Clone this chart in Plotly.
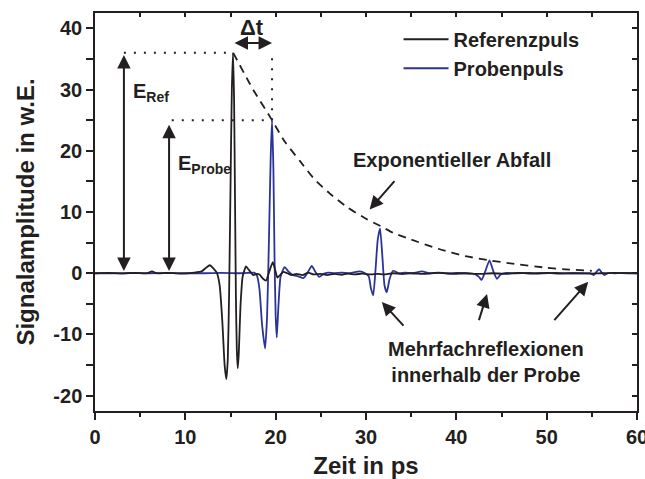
import plotly.graph_objects as go

# ---------------- data ----------------
t_ref = [0, 1.5, 3, 4.5, 5.8, 6.3, 6.8, 8, 9.5, 11, 11.8, 12.3, 12.7, 13.1, 13.5, 13.8,
         14.1, 14.35, 14.54, 14.7, 14.85, 15.0, 15.15, 15.28, 15.4, 15.5, 15.6, 15.7,
         15.8, 15.92, 16.1, 16.35, 16.72, 17.0, 17.53, 17.9, 18.2, 18.6, 18.94, 19.3,
         19.68, 19.95, 20.19, 20.5, 20.82, 21.3, 21.78, 22.3, 23.0, 23.6, 24.2, 25.0,
         25.7, 26.5, 27.3, 28.0, 28.8, 29.6, 30.5, 31.3, 32.0, 33.0, 34.0, 35.0, 36.5,
         38.0, 39.5, 41.0, 42.5, 44.0, 45.5, 47.0, 48.5, 50.0, 51.5, 53.0, 54.5, 56.0,
         57.5, 59.0, 60.0]
v_ref = [0, 0.05, -0.05, 0.05, 0.0, 0.3, 0.0, 0.05, -0.05, 0.1, 0.3, 0.9, 1.3, 0.8, 0.0, -2.0,
         -8.0, -15.0, -17.3, -14.0, -3.0, 14.0, 30.0, 36.0, 28.0, 12.0, -4.0, -12.5,
         -15.5, -13.0, -5.5, -0.5, 1.1, 0.6, -0.3, -0.1, -0.2, -0.9, -1.2, 0.3,
         1.8, 0.5, -0.7, -0.3, 0.2, 0.0, -0.3, -0.1, -0.3, 0.1, -0.2, -0.1,
         -0.3, -0.1, -0.25, -0.05, -0.2, -0.05, -0.2, -0.1, -0.2, 0.0, -0.15, 0.0, -0.1,
         0.05, -0.1, 0.0, -0.1, 0.0, -0.1, 0.05, -0.05, 0.05, -0.05, 0.0, -0.05, 0.0,
         0.05, 0.0, 0.0]

t_probe = [0, 2, 4, 6, 8, 10, 12, 14, 16, 17.0, 17.6, 17.9, 18.2, 18.5, 18.83, 19.05,
           19.25, 19.45, 19.6, 19.75, 19.87, 20.0, 20.12, 20.3, 20.55, 20.99, 21.4, 21.9,
           22.5, 23.07, 23.5, 24.0, 24.4, 24.84, 25.3, 25.8, 26.5, 27.3, 28.2, 29.3, 29.9,
           30.3, 30.55, 30.8, 31.05, 31.3, 31.56, 31.8, 32.05, 32.3, 32.6, 33.0, 33.6,
           34.3, 35.2, 36.2, 37.0, 38.0, 39.0, 40.0, 41.0, 42.0, 42.5, 42.8, 43.2, 43.67,
           44.1, 44.5, 44.9, 45.5, 46.5, 48, 49.5, 51, 52.5, 54, 54.8, 55.2, 55.5, 55.8,
           56.1, 56.4, 56.8, 57.5, 58.5, 60]
v_probe = [0, 0, 0.05, 0, 0.05, 0, 0, 0.05, 0, 0.05, 0.1, -0.3, -2.5, -8.5, -12.3, -7.0,
           5.0, 19.0, 25.0, 17.0, 3.0, -7.0, -10.5, -5.5, -0.5, 1.0, 0.3, -0.3,
           -0.5, -0.8, 0.0, 1.2, 0.2, -0.6, -0.1, 0.1, 0.0, 0.1, 0.0, 0.3, 0.0,
           -0.5, -2.5, -3.6, 0.5, 5.5, 7.3, 3.0, -2.0, -3.1, -1.0, 0.4, 0.0,
           0.1, 0.0, 0.3, 0.0, 0.1, 0.0, 0.05, 0.0, -0.1, -0.6, -1.1, 0.3, 2.1,
           0.3, -0.9, -0.2, 0.05, 0.0, 0.05, 0.0, 0.05, 0.0, 0.0, 0.0, -0.3, 0.2, 0.65,
           0.1, -0.3, 0.0, 0.0, 0.05, 0]

t_decay = [15.3, 17.5, 19.6, 21.0, 22.7, 24.2, 26.0, 28.0, 30.0, 31.6, 33.0, 35.0, 38.0,
           41.0, 43.7, 46.0, 50.0, 52.5, 55.0]
v_decay = [36.0, 30.0, 25.0, 21.5, 18.3, 15.5, 13.0, 10.7, 8.9, 7.7, 6.6, 5.5, 4.0,
           2.8, 2.1, 1.6, 0.9, 0.6, 0.4]

x_ticks = [0, 10, 20, 30, 40, 50, 60]
y_ticks = [-20, -10, 0, 10, 20, 30, 40]
x_range = [0, 60]
y_range = [-22.5, 42.5]

# ---------------- styling ----------------
INK = "#231f20"
BLUE = "#2b3399"
FONT = "Liberation Sans, Arial, sans-serif"

E_ref = max(v_ref)
tp_ref = t_ref[v_ref.index(E_ref)]
E_probe = max(v_probe)
tp_probe = t_probe[v_probe.index(E_probe)]
x_eref = 3.2
x_eprobe = 8.2

fig = go.Figure()
fig.add_trace(go.Scatter(x=t_probe, y=v_probe, mode="lines", name="Probenpuls",
                         line=dict(color=BLUE, width=1.8, shape="spline", smoothing=0.5),
                         legendrank=2))
fig.add_trace(go.Scatter(x=t_ref, y=v_ref, mode="lines", name="Referenzpuls",
                         line=dict(color=INK, width=1.8, shape="spline", smoothing=0.5),
                         legendrank=1))
fig.add_trace(go.Scatter(x=t_decay, y=v_decay, mode="lines", showlegend=False,
                         line=dict(color=INK, width=1.8, dash="8px,6px", shape="spline",
                                   smoothing=0.6)))
# empty helper trace for the mirrored (inside) tick axes
fig.add_trace(go.Scatter(x=[], y=[], xaxis="x2", yaxis="y2", showlegend=False))

dot = dict(color=INK, width=2, dash="2px,8px")
fig.add_shape(type="line", x0=x_eref, x1=tp_ref, y0=E_ref, y1=E_ref, line=dot)
fig.add_shape(type="line", x0=x_eprobe + 0.3, x1=tp_probe, y0=E_probe, y1=E_probe, line=dot)
fig.add_shape(type="line", x0=tp_probe, x1=tp_probe, y0=E_probe, y1=E_ref, line=dot)

ann_font = dict(family=FONT, size=20, color=INK, weight="bold")
arrow = dict(showarrow=True, arrowhead=2, arrowsize=1.35, arrowwidth=2, arrowcolor=INK,
             axref="x", ayref="y", text="", standoff=0, startstandoff=0)

# double arrows
fig.add_annotation(x=x_eref, y=E_ref * 0.99, ax=x_eref, ay=0.1, arrowside="end+start", **arrow)
fig.add_annotation(x=x_eprobe, y=E_probe * 0.97, ax=x_eprobe, ay=0.1, arrowside="end+start", **arrow)
fig.add_annotation(x=tp_probe, y=37.6, ax=tp_ref, ay=37.6, arrowside="end+start", **arrow)
# single arrows
fig.add_annotation(x=30.4, y=10.4, ax=33.3, ay=15.3, **arrow)
fig.add_annotation(x=31.75, y=-4.7, ax=34.3, ay=-8.8, **arrow)
fig.add_annotation(x=43.4, y=-3.4, ax=42.45, ay=-7.9, **arrow)
fig.add_annotation(x=54.6, y=-1.4, ax=50.7, ay=-7.9, **arrow)

# labels
fig.add_annotation(x=17.4, y=40.2, text="Δt", showarrow=False, font=dict(ann_font, size=22))
fig.add_annotation(x=4.0, y=29.5, text="E<sub>Ref</sub>", showarrow=False, xanchor="left",
                   font=ann_font)
fig.add_annotation(x=8.95, y=17.8, text="E<sub>Probe</sub>", showarrow=False, xanchor="left",
                   font=ann_font)
fig.add_annotation(x=39.5, y=18.55, text="Exponentieller Abfall", showarrow=False,
                   font=ann_font)
fig.add_annotation(x=43.25, y=-14.5, text="Mehrfachreflexionen<br>innerhalb der Probe",
                   showarrow=False, font=ann_font)

axis_common = dict(showline=True, linecolor=INK, linewidth=1.5, mirror=True,
                   ticks="outside", ticklen=7, tickwidth=1.5, tickcolor=INK,
                   showgrid=False, zeroline=False, automargin=False,
                   ticklabeloverflow="allow",
                   tickfont=dict(family=FONT, size=20, color=INK, weight="bold"))

fig.update_layout(
    width=645, height=479,
    margin=dict(l=95, r=8, t=13, b=68),
    paper_bgcolor="white", plot_bgcolor="white",
    font=dict(family=FONT, color=INK, weight="bold"),
    xaxis=dict(range=x_range, tickvals=x_ticks, ticktext=[str(v) for v in x_ticks],
               minor=dict(dtick=5, ticks="outside", ticklen=4, tickcolor=INK, tickwidth=1.5),
               title=dict(text="Zeit in ps", font=dict(family=FONT, size=24, color=INK, weight="bold"),
                          standoff=11),
               **axis_common),
    yaxis=dict(range=y_range, tickvals=y_ticks, ticktext=[str(v) for v in y_ticks],
               minor=dict(dtick=5, ticks="outside", ticklen=7, tickcolor=INK, tickwidth=1.5),
               title=dict(text="Signalamplitude in w.E.",
                          font=dict(family=FONT, size=24, color=INK, weight="bold"), standoff=12),
               **axis_common),
    xaxis2=dict(range=x_range, overlaying="x", side="top", anchor="y2", dtick=5, tick0=0,
                ticks="inside", ticklen=4, tickwidth=1.5, tickcolor=INK, showticklabels=False,
                showgrid=False, zeroline=False, showline=False),
    yaxis2=dict(range=y_range, overlaying="y", side="right", anchor="x2", dtick=5, tick0=0,
                ticks="inside", ticklen=5, tickwidth=1.5, tickcolor=INK, showticklabels=False,
                showgrid=False, zeroline=False, showline=False),
    legend=dict(x=0.56, y=0.983, xanchor="left", yanchor="top", bgcolor="rgba(0,0,0,0)",
                font=dict(family=FONT, size=20, color=INK, weight="bold"),
                tracegroupgap=0, itemwidth=45),
    showlegend=True,
)

fig.write_html("out.html")
